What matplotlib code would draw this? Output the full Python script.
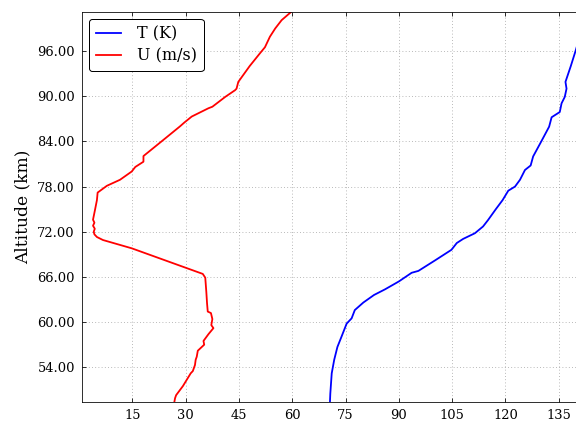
import matplotlib
matplotlib.use("Agg")
import matplotlib.pyplot as plt
from matplotlib.ticker import FormatStrFormatter

# temperature profile (K) vs altitude (km)
t_alt = [49.4, 50.5, 53.2, 55.0, 56.7, 58.0, 59.2, 59.8, 60.5, 61.6, 62.6, 63.6,
         64.35, 65.4, 66.55, 66.8, 68.2, 69.6, 70.5, 71.05, 71.8, 72.7, 73.55,
         75.0, 76.2, 77.45, 78.0, 78.9, 80.2, 80.8, 82.0, 84.0, 85.95, 87.2,
         87.9, 89.05, 89.9, 91.0, 91.9, 94.0, 96.1, 98.5, 101.2]
t_temp = [70.6, 70.7, 71.1, 71.8, 72.7, 73.8, 74.8, 75.3, 76.7, 77.6, 80.0, 83.0,
          86.1, 90.0, 93.6, 95.5, 100.2, 104.8, 106.3, 108.1, 111.4, 113.7, 115.1,
          117.3, 119.2, 120.8, 122.7, 124.1, 125.5, 127.1, 127.8, 130.1, 132.3, 133.0,
          135.3, 135.8, 136.7, 137.2, 136.9, 138.4, 139.8, 141.3, 143.0]

# zonal wind (m/s) vs altitude (km)
u_alt = [49.4, 49.9, 50.3, 51.5, 53.2, 53.5, 54.3, 55.0, 55.4, 56.2, 57.0, 57.5,
         58.4, 59.2, 59.6, 60.4, 61.2, 61.4, 62.5, 64.0, 65.9, 66.4, 69.8, 70.9,
         71.3, 71.65, 72.0, 72.4, 72.8, 73.2, 73.6, 75.0, 76.2, 77.2, 78.1, 78.9,
         80.0, 80.6, 81.3, 82.05, 84.0, 86.0, 86.5, 87.3, 88.4, 88.6, 89.9, 90.8,
         91.0, 91.9, 94.0, 95.7, 96.5, 97.9, 99.0, 100.1, 101.2]
u_speed = [26.8, 27.0, 27.3, 29.2, 31.4, 32.0, 32.6, 32.8, 33.1, 33.4, 35.2, 35.0,
           36.4, 37.8, 37.2, 37.5, 37.1, 36.2, 36.0, 35.8, 35.5, 34.8, 14.8, 6.7,
           5.0, 4.3, 4.1, 4.4, 3.9, 4.3, 3.9, 4.5, 5.0, 5.2, 7.8, 11.5,
           14.8, 15.8, 18.1, 18.1, 23.2, 28.4, 29.6, 31.7, 36.4, 37.5, 41.1, 43.9,
           44.3, 44.8, 48.0, 50.9, 52.3, 53.7, 55.2, 57.0, 59.7]

plt.rcParams["font.family"] = "serif"
plt.rcParams["font.serif"] = ["DejaVu Serif"]

fig = plt.figure(figsize=(8, 426 / 72), dpi=72)
ax = fig.add_axes([82 / 576, 24.3 / 426, 1.007 - 82 / 576, 389.7 / 426])

ax.plot(t_temp, t_alt, color="blue", linewidth=1.8, label="T (K)")
ax.plot(u_speed, u_alt, color="red", linewidth=1.8, label="U (m/s)")

ax.set_xlim(0.8, 141.0)
ax.set_ylim(49.43, 101.18)
ax.set_xticks([15, 30, 45, 60, 75, 90, 105, 120, 135])
ax.set_yticks([54, 60, 66, 72, 78, 84, 90, 96])
ax.yaxis.set_major_formatter(FormatStrFormatter("%.2f"))
ax.tick_params(direction="in", top=True, right=True, length=4, labelsize=13, pad=7)
ax.set_ylabel("Altitude (km)", fontsize=17, labelpad=6)
ax.grid(True, color="#999999", linestyle=(0, (1, 3)), linewidth=0.8)

leg = ax.legend(loc="upper left", fontsize=16, handlelength=1.6, handletextpad=1.0,
                borderpad=0.4, labelspacing=0.3, borderaxespad=0.45,
                fancybox=True, framealpha=1)
leg.get_frame().set_edgecolor("black")

fig.savefig("out.png", dpi=72)
